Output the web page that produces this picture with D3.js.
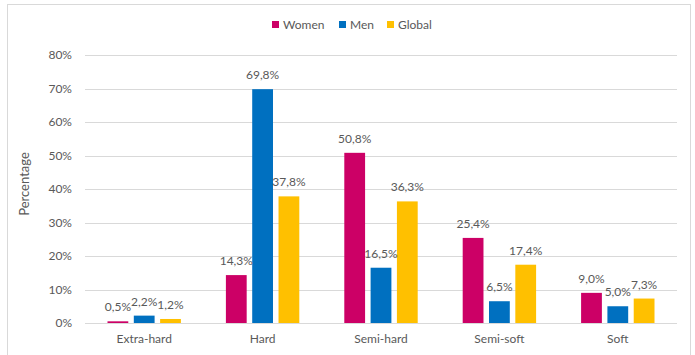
<!DOCTYPE html>
<html>
<head>
<meta charset="utf-8">
<script src="https://cdn.jsdelivr.net/npm/d3@7"></script>
<style>
  body { margin: 0; background: #fff; }
  text { font-family: Lato, "Open Sans", sans-serif; fill: #595959; }
</style>
</head>
<body>
<div id="chart"></div>
<script>
// data
const categories = ["Extra-hard", "Hard", "Semi-hard", "Semi-soft", "Soft"];
const seriesNames = ["Women", "Men", "Global"];
const women = [0.5, 14.3, 50.8, 25.4, 9.0];
const men = [2.2, 69.8, 16.5, 6.5, 5.0];
const global = [1.2, 37.8, 36.3, 17.4, 7.3];
const yTicks = [0, 10, 20, 30, 40, 50, 60, 70, 80];

const colors = ["#cc0066", "#0070c0", "#ffc000"];
const seriesValues = [women, men, global];

const width = 695, height = 355;
const margin = {left: 85, right: 18, top: 55, bottom: 32};

const svg = d3.select("#chart").append("svg")
    .attr("width", width).attr("height", height);

// chart border
svg.append("rect")
    .attr("x", 7.5).attr("y", 4.5)
    .attr("width", 683).attr("height", 360)
    .attr("fill", "none").attr("stroke", "#d9d9d9");

const x0 = d3.scaleBand()
    .domain(categories)
    .range([margin.left, width - margin.right])
    .paddingInner(0.38).paddingOuter(0.19);

const x1 = d3.scaleBand()
    .domain(seriesNames)
    .range([0, x0.bandwidth()])
    .paddingInner(0.21);

const y = d3.scaleLinear()
    .domain([0, 80])
    .range([height - margin.bottom, margin.top]);

// gridlines
svg.append("g").selectAll("line")
    .data(yTicks)
    .enter().append("line")
    .attr("x1", margin.left).attr("x2", width - margin.right)
    .attr("y1", d => Math.round(y(d)) + 0.5).attr("y2", d => Math.round(y(d)) + 0.5)
    .attr("stroke", "#d9d9d9");

// y axis labels
const yAxis = d3.axisLeft(y).tickValues(yTicks).tickFormat(d => d + "%").tickSize(0).tickPadding(13);
const gy = svg.append("g")
    .attr("transform", "translate(" + margin.left + ",0)")
    .call(yAxis);
gy.select(".domain").remove();
gy.selectAll("text").style("font-size", "12px").attr("fill", "#595959")
    .style("font-family", "Lato, 'Open Sans', sans-serif");

// x axis labels
const xAxis = d3.axisBottom(x0).tickSize(0).tickPadding(11);
const gx = svg.append("g")
    .attr("transform", "translate(0," + y(0) + ")")
    .call(xAxis);
gx.select(".domain").remove();
gx.selectAll("text").style("font-size", "12px").attr("fill", "#595959")
    .style("font-family", "Lato, 'Open Sans', sans-serif");

// y title
svg.append("text")
    .attr("transform", "translate(29,184) rotate(-90)")
    .attr("text-anchor", "middle")
    .style("font-size", "13px")
    .text("Percentage");

// bars
const groups = svg.append("g").selectAll("g")
    .data(categories)
    .enter().append("g")
    .attr("transform", d => "translate(" + x0(d) + ",0)");

groups.selectAll("rect")
    .data((d, i) => seriesNames.map((s, j) => ({s: s, v: seriesValues[j][i], j: j})))
    .enter().append("rect")
    .attr("x", d => x1(d.s))
    .attr("y", d => y(d.v))
    .attr("width", x1.bandwidth())
    .attr("height", d => y(0) - y(d.v))
    .attr("fill", d => colors[d.j]);

groups.selectAll("text.lbl")
    .data((d, i) => seriesNames.map((s, j) => ({s: s, v: seriesValues[j][i], j: j})))
    .enter().append("text").attr("class", "lbl")
    .attr("x", d => x1(d.s) + x1.bandwidth() / 2)
    .attr("y", d => y(d.v) - 10)
    .attr("text-anchor", "middle")
    .style("font-size", "12px")
    .text(d => d.v.toFixed(1).replace(".", ",") + "%");

// legend
const legendX = [272, 339, 387];
const legend = svg.append("g").selectAll("g")
    .data(seriesNames)
    .enter().append("g")
    .attr("transform", (d, i) => "translate(" + legendX[i] + ",21)");
legend.append("rect")
    .attr("width", 7).attr("height", 7)
    .attr("fill", (d, i) => colors[i]);
legend.append("text")
    .attr("x", 11).attr("y", 8)
    .style("font-size", "12px")
    .text(d => d);
</script>
</body>
</html>
